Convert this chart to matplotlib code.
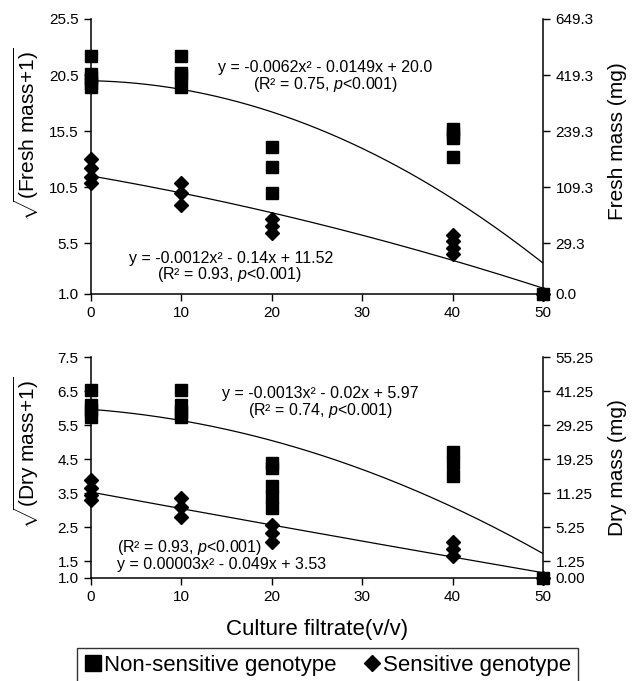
import numpy as np
import matplotlib
matplotlib.use('Agg')
import matplotlib.pyplot as plt
from matplotlib.lines import Line2D

plt.rcParams['font.family'] = ['Liberation Sans', 'DejaVu Sans']
plt.rcParams['mathtext.fontset'] = 'custom'
plt.rcParams['mathtext.rm'] = 'Liberation Sans'
plt.rcParams['mathtext.it'] = 'Liberation Sans:italic'

# culture filtrate levels and readings (sqrt(mass+1))
fresh_ns_x = [0, 0, 0, 0, 0, 10, 10, 10, 10, 20, 20, 20, 40, 40, 40, 40, 50]
fresh_ns_y = [22.2, 20.6, 20.2, 19.8, 19.4, 22.2, 20.7, 20.4, 19.4,
              14.1, 12.3, 10.0, 15.7, 15.3, 14.9, 13.2, 1.0]
fresh_s_x = [0, 0, 0, 0, 10, 10, 10, 20, 20, 20, 40, 40, 40, 40, 50]
fresh_s_y = [13.0, 12.2, 11.4, 10.9, 10.9, 10.0, 8.9, 7.7, 7.05, 6.4,
             6.3, 5.7, 5.1, 4.6, 1.0]

dry_ns_x = [0, 0, 0, 0, 10, 10, 10, 10, 20, 20, 20, 20, 20, 40, 40, 40, 50]
dry_ns_y = [6.55, 6.1, 5.95, 5.75, 6.55, 6.1, 5.9, 5.75,
            4.4, 4.25, 3.7, 3.4, 3.05, 4.7, 4.4, 4.0, 1.0]
dry_s_x = [0, 0, 0, 0, 10, 10, 10, 20, 20, 20, 40, 40, 40, 50]
dry_s_y = [3.9, 3.65, 3.45, 3.3, 3.35, 3.1, 2.8, 2.56, 2.32, 2.06,
           2.06, 1.85, 1.65, 1.0]

# quadratic fits printed on the chart
fresh_ns_fit = [-0.0062, -0.0149, 20.0]
fresh_s_fit = [-0.0012, -0.14, 11.52]
dry_ns_fit = [-0.0013, -0.02, 5.97]
dry_s_fit = [0.00003, -0.049, 3.53]

x_ticks = [0, 10, 20, 30, 40, 50]
fresh_ticks = [1.0, 5.5, 10.5, 15.5, 20.5, 25.5]
fresh_right = ['0.0', '29.3', '109.3', '239.3', '419.3', '649.3']
dry_ticks = [1.0, 1.5, 2.5, 3.5, 4.5, 5.5, 6.5, 7.5]
dry_right = ['0.00', '1.25', '5.25', '11.25', '19.25', '29.25', '41.25', '55.25']

fig = plt.figure(figsize=(6.33, 6.81), dpi=100)
ax1 = fig.add_axes([0.1438, 0.5683, 0.714, 0.4038])
ax2 = fig.add_axes([0.1438, 0.1513, 0.714, 0.3238])

xx = np.linspace(0, 50, 200)


def panel(ax, ns_x, ns_y, s_x, s_y, ns_fit, s_fit, ticks, right,
          lab_l, lab_r, ly_l, ly_r):
    ax.plot(xx, np.polyval(ns_fit, xx), color='black', lw=0.9, zorder=2)
    ax.plot(xx, np.polyval(s_fit, xx), color='black', lw=0.9, zorder=2)
    ax.plot(ns_x, ns_y, 's', color='black', ms=8, clip_on=False, zorder=5)
    ax.plot(s_x, s_y, 'D', color='black', ms=6.8, clip_on=False, zorder=5)
    ax.set_xlim(0, 50)
    ax.set_ylim(ticks[0], ticks[-1])
    ax.set_xticks(x_ticks)
    ax.set_yticks(ticks)
    ax.set_yticklabels(['%.1f' % t for t in ticks])
    ax.spines['top'].set_visible(False)
    ax.spines['right'].set_visible(False)
    for sp in ['left', 'bottom']:
        ax.spines[sp].set_linewidth(1.1)
    ax.tick_params(direction='out', length=5, width=1.0, labelsize=11, pad=4)
    ax.set_ylabel(lab_l, fontsize=15)
    ax.yaxis.set_label_coords(-0.11, ly_l)

    axr = ax.twinx()
    axr.set_ylim(ticks[0], ticks[-1])
    axr.set_yticks(ticks)
    axr.set_yticklabels(right)
    axr.spines['top'].set_visible(False)
    axr.spines['left'].set_visible(False)
    axr.spines['bottom'].set_visible(False)
    axr.spines['right'].set_linewidth(1.1)
    axr.tick_params(direction='out', length=5, width=1.0, labelsize=11, pad=4)
    axr.set_ylabel(lab_r, fontsize=15)
    axr.yaxis.set_label_coords(1.143, ly_r)
    return axr


panel(ax1, fresh_ns_x, fresh_ns_y, fresh_s_x, fresh_s_y, fresh_ns_fit, fresh_s_fit,
      fresh_ticks, fresh_right, r'$\sqrt{\mathrm{(Fresh\ mass{+}1)}}$', 'Fresh mass (mg)',
      0.58, 0.555)
panel(ax2, dry_ns_x, dry_ns_y, dry_s_x, dry_s_y, dry_ns_fit, dry_s_fit,
      dry_ticks, dry_right, r'$\sqrt{\mathrm{(Dry\ mass{+}1)}}$', 'Dry mass (mg)',
      0.57, 0.5)

ax2.set_xlabel('Culture filtrate(v/v)', fontsize=16)
ax2.xaxis.set_label_coords(0.5, -0.185)

fs = 11.5
ax1.text(25.9, 21.2, 'y = -0.0062x² - 0.0149x + 20.0', ha='center', va='center', fontsize=fs)
ax1.text(25.9, 19.7, r'(R² = 0.75, $\mathit{p}$<0.001)', ha='center', va='center', fontsize=fs)
ax1.text(15.5, 4.2, 'y = -0.0012x² - 0.14x + 11.52', ha='center', va='center', fontsize=fs)
ax1.text(15.3, 2.7, r'(R² = 0.93, $\mathit{p}$<0.001)', ha='center', va='center', fontsize=fs)

ax2.text(25.4, 6.45, 'y = -0.0013x² - 0.02x + 5.97', ha='center', va='center', fontsize=fs)
ax2.text(25.4, 5.95, r'(R² = 0.74, $\mathit{p}$<0.001)', ha='center', va='center', fontsize=fs)
ax2.text(2.9, 1.91, r'(R² = 0.93, $\mathit{p}$<0.001)', ha='left', va='center', fontsize=fs)
ax2.text(2.9, 1.41, 'y = 0.00003x² - 0.049x + 3.53', ha='left', va='center', fontsize=fs)

handles = [Line2D([], [], marker='s', ls='none', color='black', ms=12),
           Line2D([], [], marker='D', ls='none', color='black', ms=8)]
leg = fig.legend(handles, ['Non-sensitive genotype', 'Sensitive genotype'],
                 loc='upper center', bbox_to_anchor=(0.517, 1 - 648 / 681), ncol=2,
                 fontsize=16, frameon=True, fancybox=False, edgecolor='black',
                 handlelength=0.8, handletextpad=0.1, columnspacing=1.2,
                 borderpad=0.3, borderaxespad=0)
leg.get_frame().set_linewidth(1.0)

fig.savefig('out.png', dpi=100)
